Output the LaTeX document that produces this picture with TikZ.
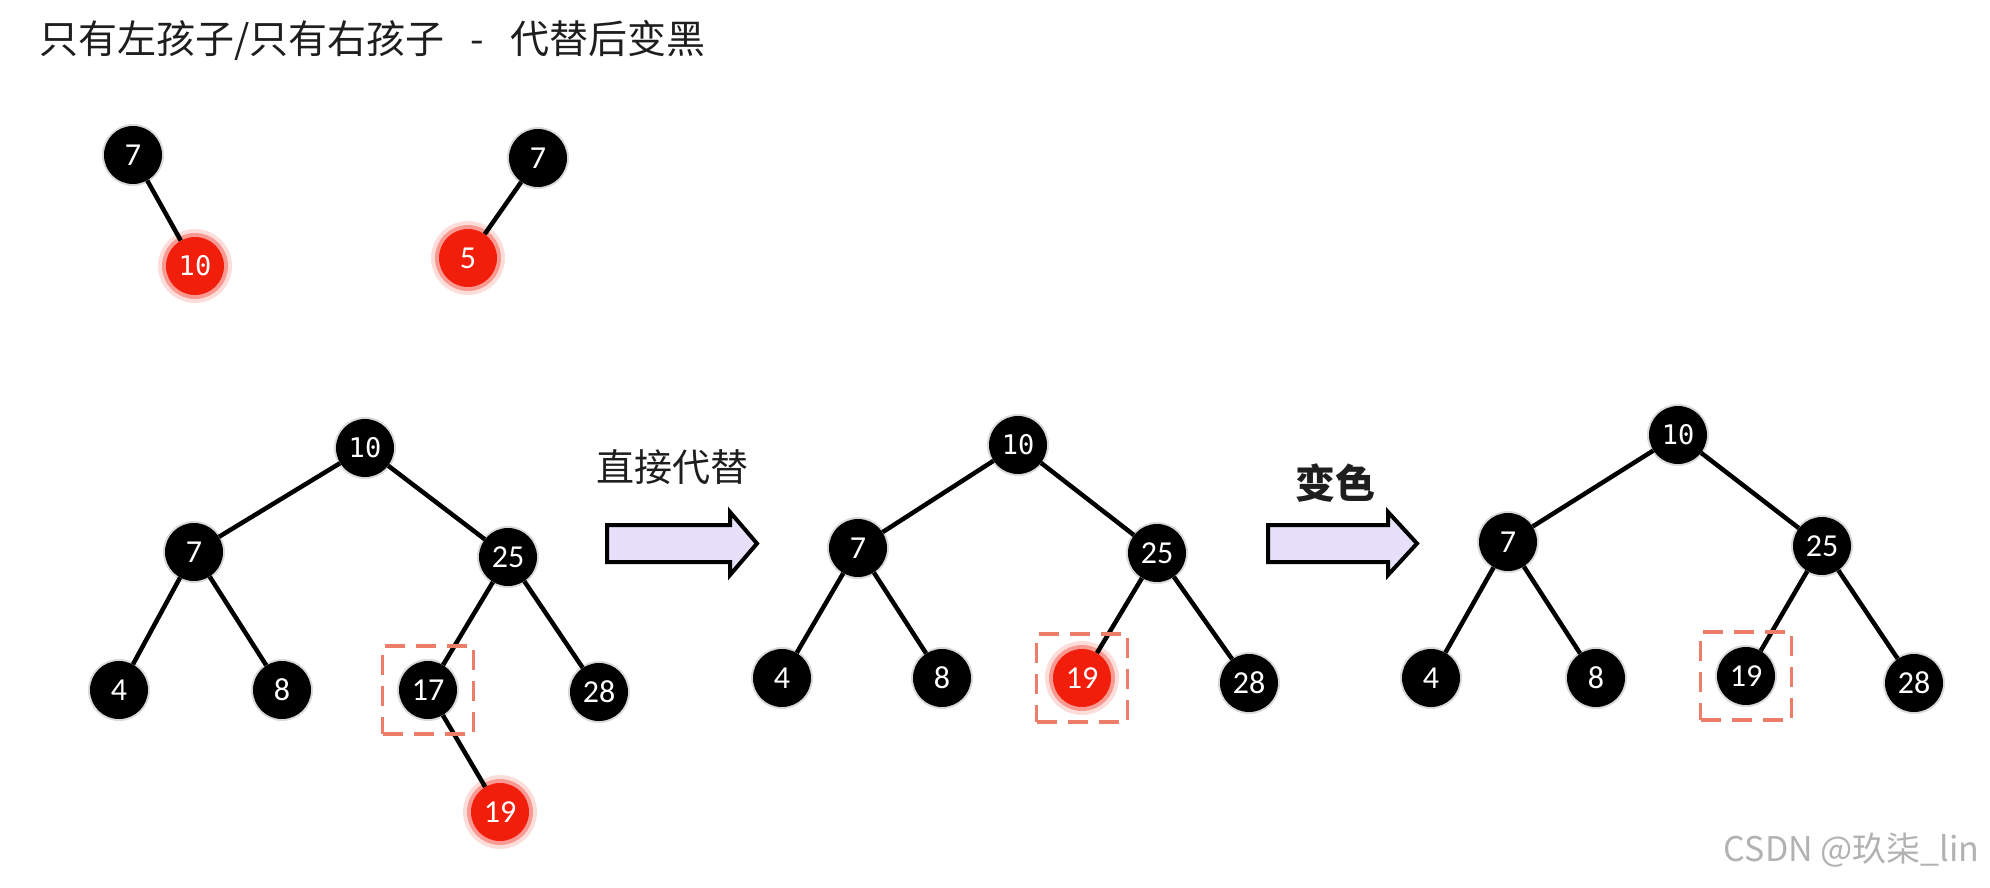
\documentclass[tikz,border=0pt]{standalone}
\usepackage{fontspec}
\newfontfamily\cjk{Noto Sans CJK SC}
\newfontfamily\monof{DejaVu Sans Mono}
\newfontfamily\calf{Carlito}
\definecolor{nodered}{RGB}{240,30,10}
\definecolor{boxred}{RGB}{235,125,105}
\definecolor{arrowfill}{RGB}{230,224,250}
\definecolor{inktext}{RGB}{30,30,30}
\tikzset{
  rbnode/.style={circle, minimum size=58pt, inner sep=0pt, text=white,
    font=\calf\fontsize{32}{32}\selectfont},
  blk/.style={rbnode, fill=black,
    preaction={draw=black, draw opacity=0.15, line width=4pt}},
  rd/.style={rbnode, fill=nodered,
    preaction={draw=nodered, draw opacity=0.15, line width=16pt},
    preaction={draw=nodered, draw opacity=0.35, line width=8pt}},
  mono/.style={font=\monof\fontsize{27}{27}\selectfont},
  edge/.style={line width=4.5pt, black},
  hl/.style={draw=boxred, line width=3.5pt, dash pattern=on 20pt off 11pt,
    minimum width=91pt, minimum height=88pt, inner sep=0pt},
  blockarrow/.style={fill=arrowfill, draw=black, line width=4pt, line join=miter},
}
\begin{document}
\begin{tikzpicture}[x=1pt, y=-1pt]
\useasboundingbox (0,0) rectangle (1990,887);

% heading
\node[anchor=west, text=inktext, font=\cjk\fontsize{39}{39}\selectfont] (title) at (36,40)
  {只有左孩子/只有右孩子\hspace{26pt}-\hspace{26pt}代替后变黑};

% single-child cases
\node[blk] (a7) at (133,155) {7};
\node[rd, mono] (a10) at (195,266) {10};
\node[blk] (b7) at (538,158) {7};
\node[rd] (b5) at (468,258) {5};
\draw[edge] (a7) -- (a10);
\draw[edge] (b7) -- (b5);

% tree before deletion
\node[blk, mono] (t10) at (365,448) {10};
\node[blk] (t7) at (194,552) {7};
\node[blk] (t25) at (508,557) {25};
\node[blk] (t4) at (119,690) {4};
\node[blk] (t8) at (282,690) {8};
\node[blk] (t17) at (428,690) {17};
\node[blk] (t28) at (599,692) {28};
\node[rd] (t19) at (500,812) {19};
\draw[edge] (t10) -- (t7);
\draw[edge] (t10) -- (t25);
\draw[edge] (t7) -- (t4);
\draw[edge] (t7) -- (t8);
\draw[edge] (t25) -- (t17);
\draw[edge] (t25) -- (t28);
\draw[edge] (t17) -- (t19);
\node[hl] (box1) at (t17) {};

% step 1
\node[text=inktext, font=\cjk\fontsize{38}{38}\selectfont] (lab1) at (672,467) {直接代替};
\draw[blockarrow] (607,525) -- (730,525) -- (730,512) -- (757,543.5) -- (730,575) -- (730,562) -- (607,562) -- cycle;

% tree after replacement
\node[blk, mono] (u10) at (1018,445) {10};
\node[blk] (u7) at (858,548) {7};
\node[blk] (u25) at (1157,553) {25};
\node[blk] (u4) at (782,678) {4};
\node[blk] (u8) at (942,678) {8};
\node[rd] (u19) at (1082,678) {19};
\node[blk] (u28) at (1249,683) {28};
\draw[edge] (u10) -- (u7);
\draw[edge] (u10) -- (u25);
\draw[edge] (u7) -- (u4);
\draw[edge] (u7) -- (u8);
\draw[edge] (u25) -- (u19);
\draw[edge] (u25) -- (u28);
\node[hl] (box2) at (u19) {};

% step 2
\node[text=inktext, font=\cjk\bfseries\fontsize{40}{40}\selectfont] (lab2) at (1335,483) {变色};
\draw[blockarrow] (1268,525) -- (1388,525) -- (1388,512) -- (1417,543.5) -- (1388,575) -- (1388,562) -- (1268,562) -- cycle;

% tree after recolouring
\node[blk, mono] (v10) at (1678,435) {10};
\node[blk] (v7) at (1508,542) {7};
\node[blk] (v25) at (1822,546) {25};
\node[blk] (v4) at (1431,678) {4};
\node[blk] (v8) at (1596,678) {8};
\node[blk] (v19) at (1746,676) {19};
\node[blk] (v28) at (1914,683) {28};
\draw[edge] (v10) -- (v7);
\draw[edge] (v10) -- (v25);
\draw[edge] (v7) -- (v4);
\draw[edge] (v7) -- (v8);
\draw[edge] (v25) -- (v19);
\draw[edge] (v25) -- (v28);
\node[hl] (box3) at (v19) {};

% watermark
\node[anchor=east, text=black!30, font=\cjk\fontsize{34}{34}\selectfont] (mark) at (1983,850) {CSDN @玖柒\_lin};
\end{tikzpicture}
\end{document}
